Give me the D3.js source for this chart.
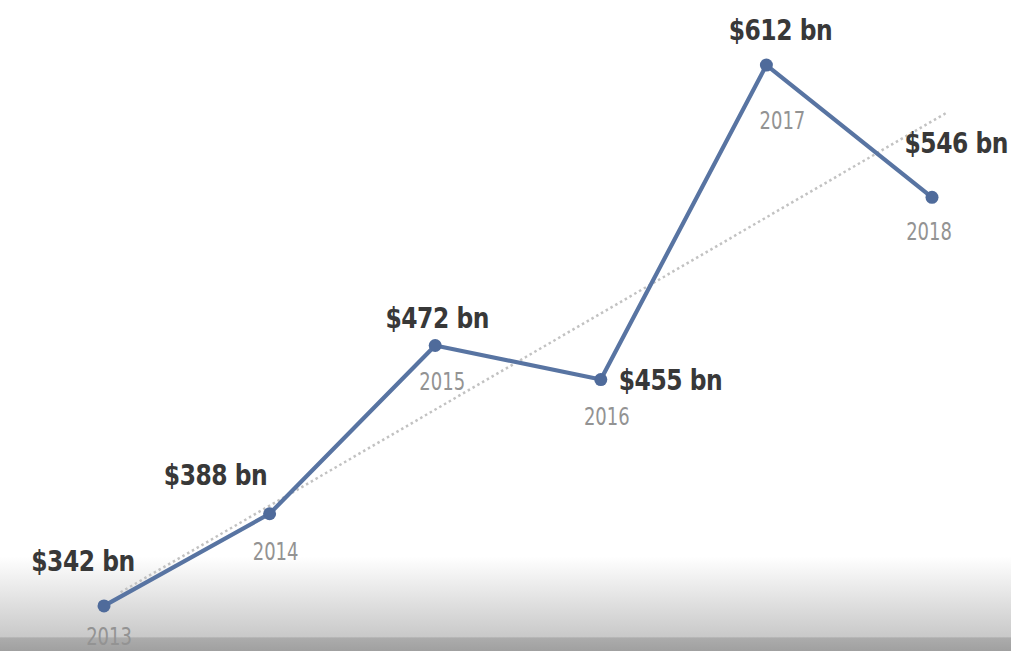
<!DOCTYPE html>
<html><head><meta charset="utf-8">
<script src="https://cdn.jsdelivr.net/npm/d3@7"></script>
<style>
html,body{margin:0;padding:0;background:#fff;overflow:hidden}
svg{display:block}
</style></head>
<body>
<svg id="chart" width="1011" height="651"></svg>
<script>
const years = ["2013","2014","2015","2016","2017","2018"];
const values = [342, 388, 472, 455, 612, 546];
const valueLabels = ["$342 bn","$388 bn","$472 bn","$455 bn","$612 bn","$546 bn"];
// dotted trend line: value at 2013 and at 2018
const trendYears = [0, 5];
const trendValues = [344, 584];

const W = 1011, H = 651;
const svg = d3.select("#chart");
const defs = svg.append("defs");
const g1 = defs.append("linearGradient").attr("id","bg").attr("x1",0).attr("y1",0).attr("x2",0).attr("y2",1);
g1.append("stop").attr("offset","0").attr("stop-color","#ffffff");
g1.append("stop").attr("offset","0.855").attr("stop-color","#ffffff");
g1.append("stop").attr("offset","0.978").attr("stop-color","#c9c9c9");
g1.append("stop").attr("offset","0.98").attr("stop-color","#acacac");
g1.append("stop").attr("offset","1").attr("stop-color","#a0a0a0");
svg.append("rect").attr("width",W).attr("height",H).attr("fill","url(#bg)");

const x = d3.scaleLinear().domain([0,5]).range([104,932]);
const y = d3.scaleLinear().domain([300,650]).range([690,-11]);

// trend line, extended slightly beyond the last year
const tSlope = (trendValues[1]-trendValues[0])/(trendYears[1]-trendYears[0]);
const tAt = t => trendValues[0] + tSlope*(t-trendYears[0]);
const tExtent = [0.1, 5.09];
svg.append("line")
  .attr("x1",x(tExtent[0])).attr("y1",y(tAt(tExtent[0])))
  .attr("x2",x(tExtent[1])).attr("y2",y(tAt(tExtent[1])))
  .attr("stroke","#c2c2c2").attr("stroke-width",2.5).attr("stroke-dasharray","2.5,3");

const pts = values.map((v,i)=>({i,v,year:years[i],label:valueLabels[i]}));
svg.append("path").datum(pts)
  .attr("d",d3.line().x(d=>x(d.i)).y(d=>y(d.v)))
  .attr("fill","none").attr("stroke","#5874a2").attr("stroke-width",4.2).attr("stroke-linejoin","round");
svg.selectAll("circle.pt").data(pts).join("circle")
  .attr("cx",d=>x(d.i)).attr("cy",d=>y(d.v)).attr("r",6.5).attr("fill","#4f6b9b");

// label offsets relative to each point: [dx, dy, anchor]
const vOff = [[-21,-35,"middle"],[-54,-29,"middle"],[2,-18,"middle"],[18,10,"start"],[14,-25,"middle"],[76,-44,"end"]];
const yOff = [[5,39,"middle"],[6,46,"middle"],[7,44,"middle"],[6,45,"middle"],[16,64,"middle"],[-3,43,"middle"]];
const font = "'DejaVu Sans Condensed','DejaVu Sans',sans-serif";
svg.selectAll("text.val").data(pts).join("text")
  .attr("transform",d=>`translate(${x(d.i)+vOff[d.i][0]},${y(d.v)+vOff[d.i][1]}) scale(0.93,1)`)
  .attr("text-anchor",d=>vOff[d.i][2])
  .attr("font-family",font).attr("font-weight","bold").attr("font-size",28)
  .attr("fill","#383838").attr("letter-spacing","-0.5")
  .text(d=>d.label);
svg.selectAll("text.yr").data(pts).join("text")
  .attr("transform",d=>`translate(${x(d.i)+yOff[d.i][0]},${y(d.v)+yOff[d.i][1]}) scale(0.8,1)`)
  .attr("text-anchor","middle")
  .attr("font-family",font).attr("font-size",25)
  .attr("fill","#939393")
  .text(d=>d.year);
</script>
</body></html>
